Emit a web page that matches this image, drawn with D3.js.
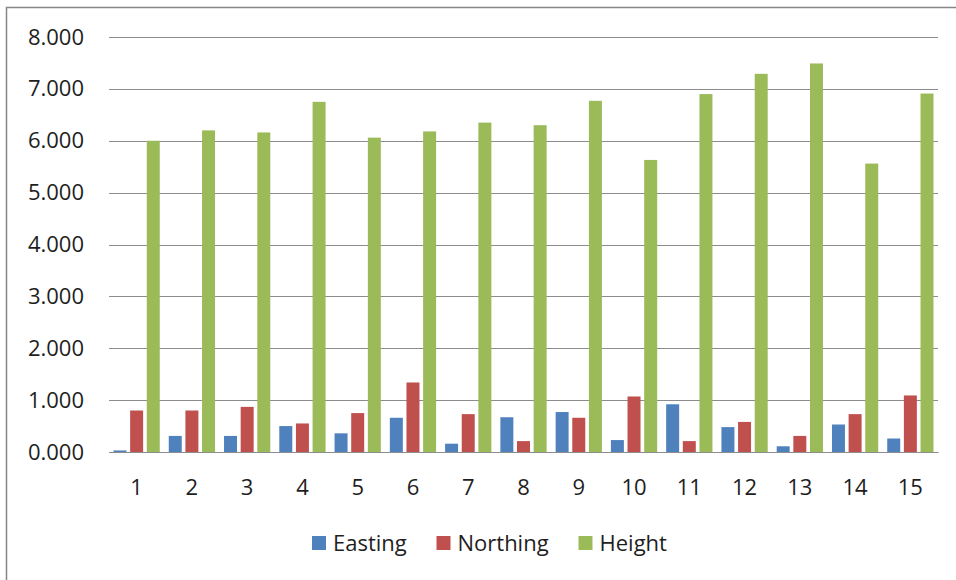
<!DOCTYPE html>
<html>
<head>
<meta charset="utf-8">
<script src="https://cdn.jsdelivr.net/npm/d3@7"></script>
<style>
  html, body { margin: 0; padding: 0; background: #fff; }
  svg { display: block; }
  text { font-family: "Open Sans", "Liberation Sans", sans-serif; fill: #1e1e1e; }
</style>
</head>
<body>
<svg id="chart" width="956" height="580"></svg>
<script>
// Point numbers along the x axis
const categories = ["1","2","3","4","5","6","7","8","9","10","11","12","13","14","15"];
const seriesNames = ["Easting", "Northing", "Height"];
const easting  = [0.03, 0.31, 0.31, 0.50, 0.36, 0.66, 0.16, 0.67, 0.77, 0.23, 0.92, 0.48, 0.11, 0.53, 0.26];
const northing = [0.80, 0.80, 0.87, 0.55, 0.75, 1.34, 0.73, 0.21, 0.66, 1.07, 0.21, 0.58, 0.31, 0.73, 1.09];
const height   = [6.00, 6.20, 6.16, 6.75, 6.06, 6.18, 6.35, 6.30, 6.77, 5.63, 6.90, 7.29, 7.49, 5.56, 6.91];
const yTicks = [0, 1, 2, 3, 4, 5, 6, 7, 8];
const colors = ["#4F81BD", "#C0504D", "#9BBB59"];

const values = [easting, northing, height];
const rows = categories.map((c, i) => ({
  cat: c,
  vals: seriesNames.map((s, k) => ({ series: s, value: values[k][i] }))
}));

const svg = d3.select("#chart");

// outer chart frame
svg.append("rect")
  .attr("x", 6.5).attr("y", 7.5)
  .attr("width", 1000).attr("height", 1000)
  .attr("fill", "none")
  .attr("stroke", "#868686")
  .attr("stroke-width", 1.5);

const plot = { left: 109, right: 938, top: 37, bottom: 452 };

const x0 = d3.scaleBand()
  .domain(categories)
  .range([plot.left, plot.right])
  .paddingInner(0).paddingOuter(0);

const inset = 4.5;
const x1 = d3.scaleBand()
  .domain(seriesNames)
  .range([inset, x0.bandwidth() - inset])
  .paddingInner(0.22).paddingOuter(0);

const y = d3.scaleLinear().domain([0, 8]).range([plot.bottom, plot.top]);

const fmt = d3.format(".3f");

// horizontal gridlines
svg.append("g")
  .selectAll("line")
  .data(yTicks)
  .join("line")
  .attr("x1", plot.left).attr("x2", plot.right)
  .attr("y1", d => Math.round(y(d)) + 0.5)
  .attr("y2", d => Math.round(y(d)) + 0.5)
  .attr("stroke", "#8c8c8c")
  .attr("stroke-width", 1.2);

// y-axis labels
const yAxis = d3.axisLeft(y).tickValues(yTicks).tickFormat(fmt).tickSize(0).tickPadding(25);
const yg = svg.append("g")
  .attr("transform", `translate(${plot.left},0)`)
  .call(yAxis);
yg.select(".domain").remove();
yg.selectAll("text")
  .attr("font-size", 22)
  .attr("font-family", "'Open Sans', sans-serif")
  .attr("fill", "#1e1e1e");

// bars
const groups = svg.append("g")
  .selectAll("g")
  .data(rows)
  .join("g")
  .attr("transform", d => `translate(${x0(d.cat)},0)`);

groups.selectAll("rect")
  .data(d => d.vals)
  .join("rect")
  .attr("x", d => x1(d.series))
  .attr("width", x1.bandwidth())
  .attr("y", d => y(d.value))
  .attr("height", d => y(0) - y(d.value))
  .attr("fill", (d, i) => colors[i]);

// x-axis baseline and labels
const xAxis = d3.axisBottom(x0).tickSize(0).tickPadding(27);
const xg = svg.append("g")
  .attr("transform", `translate(0,${plot.bottom})`)
  .call(xAxis);
xg.select(".domain").attr("stroke", "#8c8c8c").attr("stroke-width", 1.2);
xg.selectAll("text")
  .attr("font-size", 22)
  .attr("font-family", "'Open Sans', sans-serif")
  .attr("fill", "#1e1e1e");

// legend
const legendX = [312, 436.5, 578.5];
const legend = svg.append("g")
  .selectAll("g")
  .data(seriesNames)
  .join("g")
  .attr("transform", (d, i) => `translate(${legendX[i]},536)`);
legend.append("rect")
  .attr("width", 14).attr("height", 14)
  .attr("fill", (d, i) => colors[i]);
legend.append("text")
  .attr("x", 21).attr("y", 15)
  .attr("font-size", 22)
  .text(d => d);
</script>
</body>
</html>
